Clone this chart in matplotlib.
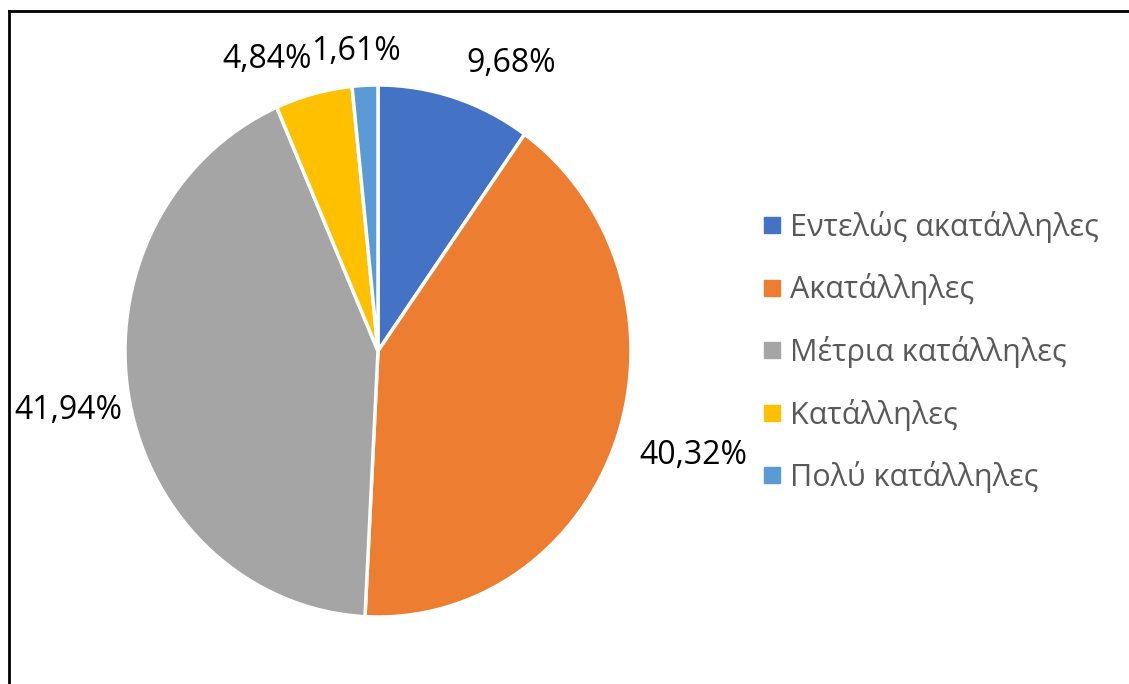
import matplotlib.pyplot as plt
from matplotlib.lines import Line2D

labels = ['Εντελώς ακατάλληλες', 'Ακατάλληλες', 'Μέτρια κατάλληλες', 'Κατάλληλες', 'Πολύ κατάλληλες']
shares = [9.68, 40.32, 41.94, 4.84, 1.61]
colors = ['#4472C4', '#ED7D31', '#A5A5A5', '#FFC000', '#5B9BD5']

plt.rcParams['font.family'] = ['Open Sans', 'DejaVu Sans']

W, H = 1129, 684
fig = plt.figure(figsize=(W / 100, H / 100), dpi=100)

# pie box in pixels (slightly taller than wide, like the original)
cx, cy, rx, ry = 378, 351, 253, 266
ax = fig.add_axes([(cx - rx) / W, 1 - (cy + ry) / H, 2 * rx / W, 2 * ry / H])

wedges, _ = ax.pie(shares, colors=colors, startangle=90, counterclock=False,
                   wedgeprops=dict(edgecolor='white', linewidth=2.5))
ax.set_aspect('auto')
ax.set_xlim(-1, 1)
ax.set_ylim(-1, 1)

def px(x, y):
    return (x - cx) / rx, (cy - y) / ry

# label centre x / baseline y, in pixels
label_pos = [(511, 72), (693, 464), (68, 419), (267, 68), (356, 60)]
for v, (x, y) in zip(shares, label_pos):
    tx, ty = px(x, y)
    ax.text(tx, ty, f'{v:.2f}%'.replace('.', ','), ha='center', va='baseline',
            fontsize=23, color='black', clip_on=False)

handles = [Line2D([], [], marker='s', linestyle='', markersize=11,
                  markerfacecolor=c, markeredgecolor=c) for c in colors]
fig.legend(handles, labels, loc='center left', bbox_to_anchor=(732 / W, 1 - 352 / H),
           frameon=False, fontsize=22, labelcolor='#595959',
           handlelength=0.8, handletextpad=0.2, labelspacing=1.0)

# frame lines at top and left, as in the screenshot
fig.add_artist(Line2D([9 / W, 9 / W], [0, 1 - 11 / H], color='black', lw=2))
fig.add_artist(Line2D([9 / W, 1], [1 - 11 / H, 1 - 11 / H], color='black', lw=2))

fig.savefig('out.png', dpi=100)
